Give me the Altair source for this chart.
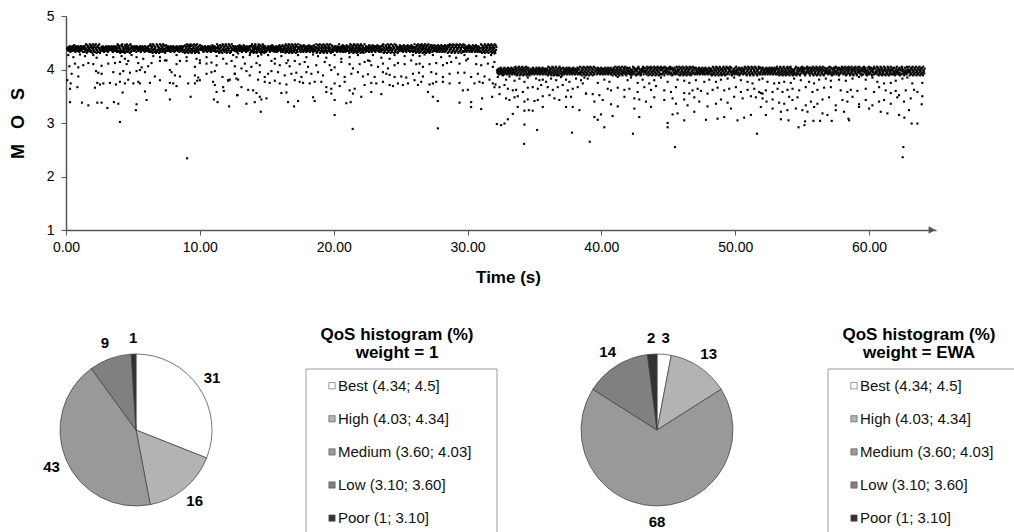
import altair as alt
import numpy as np
import pandas as pd

FONT = "Liberation Sans"

# Steady-state MOS band, one digit per sample (MOS = level + BAND_STEP * digit)
BAND_1 = (
    "4536254731463527456382451736452374516352743645174"
    "6173529408163752493618275049362718594036271859403"
    "2364527463153642574361527463546374251637452635471"
    "3958271640318279513642085173946172538049162573"
    "3652473645174635264537416253746352417364523645713"
    "4829175630928471653029187364052918473615928471035826"
    "6427453625174365247361526453746253641745263745162"
    "731084625197304862519730418265942073851943620748"
    "8354637452146374562351473652437615248364527364152"
    "296574103852617309485261379480261539487026159347"
    "7364524736514273645826357416253847362514736253647"
    "503721896420735198640213579631487025639184602573"
    "1524365736415273648527364152637415362745836415273"
    "814263750928416375902846135907824613597038261495"
    "6452817364527183645273164527384615273645271483625"
    "369051284736905128476319058274631905827463915028"
    "3741625347365241736529364152736481527364152837462"
    "620749531846270593184627059318642750938146720539"
    "5317462536471825364715283647526173465826374152637"
    "147839605213874603952187463095213874605921387460"
    "4152638475263741528374652137485623471652837461526"
    "935206814729530681472953068417295306814729350618"
    "3748516273485263741528364715263847152637418527364"
    "408617293548061729354801672935480167295340861729"
    "1528374615263748516273461528374651728364512736451"
    "259180364715290836471529083647159208364715920836"
)
BAND_1_SPAN = (0.10, 32.15)
BAND_1_LEVEL = 4.31

BAND_2 = (
    "5362471536482715364271835462715384627153648271536"
    "538162947052183694072518369407251863490725186340"
    "2475316428375146253847162538461725364817253647152"
    "274609135826417039582604713958206417309582641703"
    "3846152736481527364815273645172836451726354817263"
    "691324850736912485073619248507639128457036912854"
    "4571628354726153847261537462815364728153647281536"
    "305782461930578246193057826419035728469130758246"
    "2748153602461938472615074628193746201537469815374"
    "842516973048251697340825169473082561947308521697"
    "6152837409527384651723846912738065172384615293846"
    "156930728415693072841563907284516397028415693728"
    "5172836415273864152736481527346185273641528374615"
    "720459183627045918362704598136207451983620745918"
    "2738461597384015237461528394615273806152738465172"
    "469273810546927381054692731805649237815046297381"
    "3846571283645127638451726348517236845172638541726"
    "913746205893174620589317460258391764208593714620"
    "4615372890153728461507284695372846103728496537284"
    "085623749160852374196085237419608532749160582347"
    "5273641825936418207364182573941825736081257364982"
    "571836492075183649275081369427501863497250183649"
    "3648152706481597364815203648192736481507364819273"
    "246391857024639185702436915870426319587024639158"
    "6251738402517394625173806251798462510384625193846"
    "639045271863904527186390542718369054278163094527"
)
BAND_2_SPAN = (32.20, 64.15)
BAND_2_LEVEL = 3.89
BAND_STEP = 0.018

# Samples that drop below the band: (time s, MOS)
DROPS_1 = [
    (0.17, 4.27), (0.55, 4.23), (1.04, 4.28), (1.42, 4.25), (2.04, 4.27), (2.29, 4.22),
    (3.04, 4.27), (3.53, 4.23), (4.15, 4.25), (4.40, 4.20), (4.90, 4.27), (5.27, 4.23),
    (5.77, 4.20), (6.52, 4.25), (7.02, 4.23), (7.51, 4.17), (8.26, 4.27), (9.01, 4.23),
    (9.75, 4.20), (10.00, 4.17), (10.50, 4.23), (11.25, 4.25), (11.74, 4.20), (12.49, 4.27),
    (12.74, 4.23),
    (0.25, 4.06), (0.67, 4.11), (0.92, 4.04), (1.29, 4.08), (1.67, 4.12), (2.04, 4.10),
    (2.66, 4.07), (3.16, 4.11), (3.66, 4.12), (4.03, 4.14), (4.53, 4.10), (4.65, 4.16),
    (5.40, 4.12), (5.65, 4.04), (6.14, 4.06), (6.39, 4.12), (7.02, 4.16), (7.39, 4.17),
    (7.76, 3.99), (8.26, 4.10), (8.51, 4.16), (9.01, 4.16), (9.63, 4.05), (10.00, 4.12),
    (10.50, 4.11), (10.87, 4.13), (11.25, 4.08), (11.99, 4.11), (12.37, 4.16), (12.61, 4.06),
    (0.42, 3.92), (0.92, 3.87), (2.24, 3.97), (2.41, 3.94), (2.66, 3.92), (3.53, 3.95),
    (4.03, 3.92), (4.28, 3.97), (4.78, 3.94), (5.27, 3.97), (5.52, 3.99), (5.90, 3.95),
    (6.64, 3.87), (7.89, 3.95), (8.14, 3.89), (8.51, 3.87), (9.63, 3.89), (9.88, 3.85),
    (10.50, 3.92), (10.87, 3.95), (11.12, 3.97), (11.69, 3.86), (12.12, 3.80), (12.61, 3.92),
    (0.10, 3.80), (0.35, 3.74), (0.30, 3.64), (0.85, 3.67), (2.16, 3.66), (2.34, 3.75),
    (2.54, 3.72), (2.79, 3.74), (3.28, 3.75), (3.73, 3.72), (4.03, 3.77), (4.40, 3.74),
    (4.65, 3.81), (5.03, 3.74), (5.40, 3.77), (5.52, 3.74), (6.27, 3.75), (7.02, 3.80),
    (7.76, 3.75), (8.01, 3.74), (8.26, 3.69), (9.13, 3.74), (9.63, 3.74), (9.80, 3.79),
    (10.00, 3.80), (10.99, 3.77), (11.12, 3.71), (11.74, 3.67), (12.12, 3.79), (12.24, 3.81),
    (4.23, 3.57), (5.90, 3.59), (7.46, 3.61), (11.25, 3.58), (11.79, 3.60), (12.79, 3.52),
    (0.30, 3.39), (1.19, 3.38), (1.67, 3.33), (2.34, 3.38), (2.66, 3.38), (3.09, 3.28),
    (3.58, 3.39), (3.91, 3.36), (5.27, 3.35), (5.22, 3.24), (6.02, 3.43), (7.76, 3.44),
    (9.31, 3.49), (11.05, 3.44), (11.32, 3.39), (12.19, 3.31),
    (4.03, 3.02), (9.05, 2.34),
    (12.86, 4.30), (13.23, 4.23), (13.73, 4.27), (14.35, 4.25), (14.60, 4.28), (15.10, 4.27),
    (15.60, 4.20), (16.09, 4.25), (16.59, 4.17), (17.34, 4.27), (17.96, 4.23), (18.46, 4.28),
    (18.83, 4.25), (19.45, 4.22), (20.07, 4.27), (20.57, 4.20), (21.19, 4.23), (21.81, 4.27),
    (22.56, 4.17), (22.93, 4.27), (23.56, 4.22), (24.18, 4.20), (24.55, 4.27), (25.30, 4.25),
    (25.79, 4.17),
    (13.36, 4.11), (13.85, 4.05), (14.23, 4.12), (14.48, 4.08), (15.35, 4.16), (15.60, 4.11),
    (15.97, 4.08), (16.47, 4.12), (16.71, 4.06), (17.09, 4.16), (17.46, 4.10), (17.83, 4.14),
    (18.08, 4.05), (18.70, 4.08), (19.33, 4.14), (19.70, 4.08), (20.07, 4.04), (20.57, 4.14),
    (21.19, 4.10), (21.44, 4.02), (21.94, 4.10), (22.31, 4.14), (22.68, 4.16), (22.81, 4.08),
    (23.31, 4.05), (23.68, 4.11), (24.05, 4.02), (24.55, 4.08), (24.80, 4.12), (25.30, 4.10),
    (12.61, 3.92), (12.73, 3.83), (13.11, 4.02), (13.48, 3.97), (13.73, 3.89), (14.48, 3.95),
    (14.85, 3.86), (15.10, 3.92), (15.35, 3.97), (15.84, 3.95), (16.34, 3.89), (16.84, 3.92),
    (17.21, 3.94), (17.59, 3.86), (17.96, 3.95), (18.33, 3.92), (18.83, 3.95), (19.20, 3.89),
    (19.82, 3.99), (20.32, 3.91), (20.82, 3.86), (21.32, 3.92), (21.81, 3.95), (22.19, 3.87),
    (22.56, 3.91), (23.06, 3.86), (23.68, 3.95), (23.93, 3.92), (24.18, 3.90), (24.55, 3.86),
    (25.05, 3.87), (25.42, 3.85),
    (12.86, 3.81), (13.11, 3.67), (13.61, 3.62), (13.98, 3.61), (14.35, 3.81), (14.85, 3.77),
    (15.22, 3.75), (15.60, 3.79), (15.97, 3.74), (16.47, 3.72), (17.09, 3.80), (17.46, 3.77),
    (17.71, 3.75), (18.21, 3.74), (18.58, 3.77), (19.08, 3.77), (19.45, 3.67), (19.82, 3.64),
    (20.07, 3.74), (20.45, 3.69), (20.82, 3.77), (21.19, 3.61), (21.57, 3.64), (22.31, 3.71),
    (22.81, 3.75), (23.18, 3.74), (23.68, 3.77), (24.18, 3.71), (24.43, 3.69), (24.80, 3.74),
    (25.17, 3.71), (25.55, 3.74),
    (12.81, 3.52), (14.23, 3.56), (14.48, 3.49), (14.98, 3.46), (16.09, 3.56), (16.47, 3.57),
    (18.46, 3.48), (19.45, 3.58), (19.82, 3.55), (20.07, 3.43), (21.44, 3.55), (22.06, 3.49),
    (22.81, 3.58), (23.56, 3.54),
    (13.48, 3.36), (14.10, 3.39), (14.60, 3.44), (16.59, 3.39), (17.04, 3.31), (17.34, 3.41),
    (18.58, 3.41), (20.94, 3.37), (21.27, 3.39),
    (14.55, 3.21), (20.07, 3.15), (21.42, 2.89),
    (25.92, 4.27), (26.42, 4.25), (26.79, 4.28), (27.41, 4.27), (28.03, 4.23), (28.66, 4.25),
    (29.15, 4.22), (29.77, 4.27), (30.02, 4.20), (30.65, 4.25), (31.27, 4.23), (31.76, 4.27),
    (32.01, 4.30),
    (26.17, 4.10), (26.42, 4.11), (26.67, 4.05), (27.16, 4.10), (27.66, 4.12), (28.16, 4.08),
    (28.46, 4.12), (28.78, 4.14), (29.40, 4.11), (29.90, 4.17), (30.65, 4.10), (31.02, 4.08),
    (31.52, 4.11), (31.89, 4.05), (32.01, 4.14),
    (25.92, 3.92), (26.37, 3.94), (26.67, 3.87), (27.29, 3.95), (27.66, 3.92), (28.16, 3.86),
    (28.66, 3.92), (29.28, 3.94), (29.77, 3.94), (30.27, 3.86), (30.77, 3.92), (31.27, 3.87),
    (31.64, 3.81),
    (26.04, 3.80), (26.29, 3.71), (26.54, 3.77), (27.16, 3.72), (27.41, 3.74), (27.66, 3.77),
    (28.16, 3.77), (28.66, 3.74), (29.40, 3.75), (29.65, 3.61), (30.02, 3.62), (30.52, 3.74),
    (30.89, 3.77), (31.14, 3.75), (31.89, 3.74), (32.01, 3.67),
    (27.04, 3.58), (27.41, 3.49), (27.78, 3.41), (29.40, 3.38), (30.27, 3.39), (31.09, 3.46),
    (31.84, 3.49), (30.27, 3.30), (31.02, 3.26),
    (27.78, 2.90),
]

DROPS_2 = [
    (32.26, 3.86), (32.64, 3.89), (32.88, 3.81), (33.13, 3.87), (33.51, 3.79), (33.88, 3.83),
    (34.25, 3.77), (34.50, 3.85), (35.12, 3.83), (35.37, 3.80), (35.62, 3.81), (35.87, 3.77),
    (36.24, 3.83), (36.62, 3.80), (36.99, 3.86), (37.36, 3.81), (37.61, 3.77), (38.11, 3.83),
    (38.48, 3.80), (38.73, 3.85),
    (32.09, 3.72), (32.39, 3.67), (32.76, 3.71), (33.01, 3.64), (33.38, 3.61), (33.63, 3.62),
    (34.13, 3.58), (34.50, 3.66), (34.87, 3.67), (35.25, 3.64), (35.50, 3.71), (35.99, 3.67),
    (36.37, 3.62), (36.74, 3.67), (37.11, 3.71), (37.49, 3.61), (37.86, 3.64), (38.23, 3.67),
    (38.61, 3.74), (38.85, 3.55),
    (32.39, 3.54), (32.88, 3.46), (33.13, 3.43), (33.51, 3.48), (33.75, 3.50), (34.25, 3.40),
    (34.50, 3.44), (35.00, 3.41), (35.25, 3.43), (35.62, 3.50), (36.12, 3.52), (36.49, 3.46),
    (36.86, 3.43), (37.36, 3.49), (37.73, 3.49),
    (33.38, 3.17), (33.75, 3.30), (34.25, 3.23), (34.58, 3.24), (34.87, 3.23), (35.62, 3.30),
    (37.36, 3.30), (37.86, 3.30), (38.36, 3.24),
    (32.19, 2.98), (32.51, 2.96), (32.76, 2.99), (33.01, 3.07), (34.25, 2.97),
    (35.20, 2.87), (37.81, 2.82), (34.23, 2.61),
    (38.98, 3.83), (39.73, 3.75), (40.22, 3.81), (40.60, 3.77), (41.22, 3.86), (41.96, 3.80),
    (42.21, 3.85), (42.71, 3.75), (43.08, 3.81), (43.58, 3.74), (43.95, 3.80), (44.45, 3.85),
    (44.95, 3.77), (45.69, 3.81), (46.19, 3.79), (46.57, 3.75), (47.06, 3.80), (47.69, 3.77),
    (48.06, 3.81), (48.56, 3.77), (48.93, 3.81), (49.43, 3.83), (49.92, 3.85), (50.42, 3.80),
    (50.92, 3.77), (51.29, 3.74), (51.79, 3.81),
    (38.85, 3.55), (39.35, 3.54), (39.85, 3.52), (40.47, 3.64), (40.72, 3.61), (41.22, 3.66),
    (41.72, 3.62), (42.09, 3.64), (42.71, 3.58), (43.21, 3.67), (43.71, 3.62), (44.08, 3.69),
    (44.70, 3.61), (45.20, 3.58), (45.57, 3.67), (46.19, 3.56), (46.57, 3.55), (46.81, 3.61),
    (47.19, 3.64), (47.44, 3.60), (47.93, 3.55), (48.31, 3.62), (48.68, 3.66), (49.18, 3.61),
    (49.55, 3.64), (50.05, 3.67), (50.42, 3.58), (50.92, 3.62), (51.42, 3.64), (51.79, 3.58),
    (52.04, 3.55),
    (39.48, 3.40), (40.10, 3.43), (40.72, 3.35), (41.22, 3.31), (41.72, 3.49), (42.46, 3.46),
    (42.83, 3.44), (43.33, 3.40), (43.95, 3.48), (44.70, 3.43), (45.32, 3.46), (45.57, 3.36),
    (46.19, 3.44), (46.44, 3.33), (46.94, 3.48), (47.31, 3.40), (47.93, 3.31), (48.56, 3.36),
    (48.93, 3.44), (49.43, 3.38), (49.92, 3.49), (50.55, 3.46), (51.17, 3.50), (51.54, 3.48),
    (39.48, 3.11), (39.73, 3.06), (39.97, 3.16), (40.84, 3.13), (42.46, 3.27), (42.83, 3.11),
    (43.71, 3.30), (44.95, 3.00), (45.32, 3.16), (45.69, 3.18), (46.19, 3.05), (46.94, 3.21),
    (47.81, 3.06), (48.68, 3.08), (49.18, 3.11), (49.68, 3.27), (50.17, 3.05), (50.67, 3.10),
    (51.17, 3.15),
    (40.22, 2.92), (39.13, 2.65), (42.36, 2.80), (44.95, 2.92), (45.50, 2.55), (51.62, 2.80),
    (52.04, 3.83), (52.41, 3.77), (52.91, 3.74), (53.28, 3.75), (53.66, 3.77), (54.15, 3.75),
    (54.40, 3.83), (54.90, 3.80), (55.52, 3.77), (55.89, 3.74), (56.27, 3.81), (56.77, 3.83),
    (57.14, 3.79), (57.76, 3.81), (58.26, 3.79), (58.76, 3.83), (59.25, 3.86), (59.75, 3.81),
    (60.25, 3.85), (60.62, 3.77), (61.12, 3.74), (61.62, 3.75), (61.99, 3.79), (62.49, 3.83),
    (62.86, 3.85), (63.23, 3.74), (63.98, 3.75),
    (51.91, 3.56), (52.29, 3.61), (52.79, 3.58), (53.16, 3.64), (53.53, 3.58), (53.90, 3.62),
    (54.28, 3.64), (54.78, 3.61), (55.27, 3.67), (55.77, 3.58), (56.14, 3.62), (56.64, 3.66),
    (57.14, 3.67), (57.88, 3.61), (58.38, 3.58), (58.63, 3.62), (59.13, 3.60), (59.75, 3.64),
    (60.37, 3.58), (60.75, 3.67), (61.24, 3.61), (61.62, 3.56), (61.99, 3.60), (62.24, 3.52),
    (62.74, 3.61), (63.36, 3.62), (63.61, 3.58), (63.98, 3.50),
    (52.04, 3.46), (52.34, 3.40), (52.79, 3.44), (53.28, 3.38), (53.66, 3.36), (54.03, 3.49),
    (54.28, 3.43), (54.65, 3.48), (55.27, 3.33), (55.65, 3.40), (56.14, 3.36), (56.52, 3.44),
    (57.01, 3.48), (57.51, 3.33), (58.01, 3.43), (58.38, 3.40), (58.76, 3.49), (59.25, 3.35),
    (59.75, 3.43), (60.25, 3.33), (60.75, 3.40), (61.12, 3.43), (61.62, 3.36), (62.11, 3.48),
    (62.61, 3.40), (63.11, 3.46), (63.93, 3.35),
    (51.91, 3.30), (52.29, 3.15), (52.79, 3.27), (53.41, 3.21), (53.90, 3.24), (54.53, 3.27),
    (55.02, 3.24), (55.40, 3.21), (55.89, 3.30), (56.52, 3.18), (56.89, 3.15), (57.51, 3.24),
    (58.13, 3.21), (58.51, 3.05), (59.25, 3.30), (60.00, 3.27), (60.87, 3.21), (61.37, 3.18),
    (62.24, 3.15), (62.64, 3.10), (62.98, 3.24), (63.61, 2.99), (63.18, 2.99),
    (53.41, 3.07), (53.98, 3.05), (54.73, 2.92), (55.17, 2.96), (55.22, 3.03), (55.84, 3.04),
    (56.34, 3.04), (57.21, 3.04), (58.46, 3.08),
    (62.56, 2.55), (62.51, 2.36),
]

CATEGORIES = [
    "Best (4.34; 4.5]",
    "High (4.03; 4.34]",
    "Medium (3.60; 4.03]",
    "Low (3.10; 3.60]",
    "Poor (1; 3.10]",
]
SHARE_WEIGHT_1 = [31, 16, 43, 9, 1]
SHARE_WEIGHT_EWA = [3, 13, 68, 14, 2]
GRAYS = ["#ffffff", "#b3b3b3", "#999999", "#808080", "#333333"]

X_TICKS = [0, 10, 20, 30, 40, 50, 60]
Y_TICKS = [1, 2, 3, 4, 5]

# plot area of the time series, in px
W, H = 870, 214

NBSP = "\u00a0"


def band_rows(digits, span, level):
    times = np.linspace(span[0], span[1], len(digits))
    return [(float(t), level + BAND_STEP * int(d)) for t, d in zip(times, digits)]


rows = (
    band_rows(BAND_1, BAND_1_SPAN, BAND_1_LEVEL)
    + band_rows(BAND_2, BAND_2_SPAN, BAND_2_LEVEL)
    + DROPS_1
    + DROPS_2
)
samples = pd.DataFrame(rows, columns=["t", "mos"])

scatter = alt.Chart(samples).mark_square(size=4.5, color="black", opacity=1).encode(
    x=alt.X(
        "t:Q",
        scale=alt.Scale(domain=[0, 65], nice=False, zero=False),
        axis=alt.Axis(
            values=X_TICKS, format=".2f", title="Time (s)", labelFlush=False,
            titleX=442, titleY=47, titleAlign="center", titleBaseline="middle",
            titleFontSize=17,
        ),
    ),
    y=alt.Y(
        "mos:Q",
        scale=alt.Scale(domain=[1, 5], nice=False, zero=False),
        axis=alt.Axis(
            values=Y_TICKS, format="d", labelFlush=False,
            title=(NBSP * 3).join(["M", "O", "S"]),
            titleX=-48, titleY=107, titleAlign="center", titleBaseline="middle",
            titleAngle=-90, titleFontSize=18,
        ),
    ),
)

one = pd.DataFrame({"k": [0]})
arrow = alt.Chart(one).mark_point(
    shape="triangle-right", filled=True, size=60, color="#555555", opacity=1
).encode(x=alt.value(W - 4), y=alt.value(H))

color = alt.Color(
    "cat:N", scale=alt.Scale(domain=CATEGORIES, range=GRAYS), legend=None
)


def pie(shares, cx):
    df = pd.DataFrame({"cat": CATEGORIES, "share": shares, "idx": list(range(5))})
    base = alt.Chart(df).encode(
        theta=alt.Theta("share:Q", stack=True),
        order=alt.Order("idx:Q"),
        x=alt.value(cx),
        y=alt.value(414),
    )
    arcs = base.mark_arc(outerRadius=76, stroke="#3c3c3c", strokeWidth=0.7).encode(
        color=color
    )
    labels = base.mark_text(
        radius=92, font=FONT, fontSize=15, fontWeight="bold", color="black"
    ).encode(text="share:Q")
    return [arcs, labels]


def legend_box(x0, subtitle):
    box = alt.Chart(one).mark_rect(
        fill="white", stroke="#9a9a9a", strokeWidth=1
    ).encode(
        x=alt.value(x0), x2=alt.value(x0 + 191), y=alt.value(353), y2=alt.value(560)
    )
    title_style = dict(
        font=FONT, fontSize=17, fontWeight="bold", color="black", align="center",
        baseline="middle",
    )
    t1 = alt.Chart(one).mark_text(text="QoS histogram (%)", **title_style).encode(
        x=alt.value(x0 + 91), y=alt.value(319)
    )
    t2 = alt.Chart(one).mark_text(text=subtitle, **title_style).encode(
        x=alt.value(x0 + 91), y=alt.value(337)
    )
    entries = alt.Chart(
        pd.DataFrame({"cat": CATEGORIES, "idx": list(range(5))})
    ).transform_calculate(py="369.7 + datum.idx * 33.1")
    squares = entries.mark_square(
        size=40, stroke="#555555", strokeWidth=0.6, opacity=1
    ).encode(
        x=alt.value(x0 + 26), y=alt.Y("py:Q", scale=None, axis=None), color=color
    )
    names = entries.mark_text(
        font=FONT, fontSize=15, color="#111111", align="left", baseline="middle"
    ).encode(
        x=alt.value(x0 + 32), y=alt.Y("py:Q", scale=None, axis=None), text="cat:N"
    )
    return [box, t1, t2, squares, names]


layers = (
    [scatter, arrow]
    + pie(SHARE_WEIGHT_1, 70)
    + legend_box(240, "weight = 1")
    + pie(SHARE_WEIGHT_EWA, 591)
    + legend_box(762, "weight = EWA")
)

chart = (
    alt.layer(*layers)
    .properties(
        width=W,
        height=H,
        autosize=alt.AutoSizeParams(type="none"),
        padding={"left": 66, "top": 16, "right": 78, "bottom": 302},
        background="white",
    )
    .configure_view(stroke=None)
    .configure_axis(
        grid=False,
        domainColor="#555555",
        domainWidth=1.5,
        tickColor="#555555",
        tickWidth=1,
        tickSize=5,
        labelFont=FONT,
        labelFontSize=14,
        labelColor="black",
        labelPadding=5,
        titleFont=FONT,
        titleFontWeight="bold",
        titleColor="black",
    )
    .configure_axisY(labelPadding=7)
)

chart.save("out.html", embed_options={"renderer": "svg", "actions": False})
